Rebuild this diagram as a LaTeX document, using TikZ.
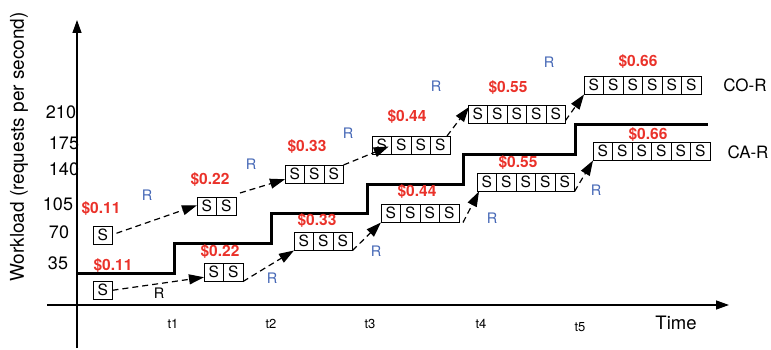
\documentclass[tikz,border=0pt]{standalone}
\usepackage{fontspec}
\setmainfont{TeX Gyre Heros}
\usetikzlibrary{arrows.meta}
\definecolor{price}{RGB}{234,50,42}
\definecolor{rlabel}{RGB}{70,104,182}
\newcommand\myfs[1]{\fontsize{#1}{#1}\selectfont}
% a row of n server cells "S", first cell placed by its top-left corner
\newcommand\cellrow[4]{%
  \node[cell, anchor=north west] (#1-1) at (#3,#4) {S};
  \ifnum#2>1
    \foreach \i [evaluate=\i as \j using int(\i-1)] in {2,...,#2}{%
      \node[cell, anchor=west] (#1-\i) at (#1-\j.east) {S};}%
  \fi}
\begin{document}
\begin{tikzpicture}[x=1pt,y=-1pt,
  cell/.style={draw, line width=0.8pt, minimum width=19.5pt, minimum height=18.5pt,
    inner sep=0pt, outer sep=0pt, font=\myfs{15.5}},
  axis/.style={line width=1.3pt, -{Triangle[length=13pt,width=9pt]}},
  load/.style={line width=3pt},
  move/.style={line width=1.2pt, dash pattern=on 6pt off 4pt,
    -{Triangle[length=15pt,width=10pt]}},
  cost/.style={text=price, font=\myfs{15.5}\bfseries},
  rep/.style={text=rlabel, font=\myfs{14.5}},
  tick/.style={font=\myfs{18}},
  tlab/.style={font=\myfs{13}}]
\useasboundingbox (0,0) rectangle (771,350);

% axes
\draw[axis] (77,348) -- (77,20);
\draw[axis] (47,305) -- (729,305);
\node[rotate=90, font=\myfs{19}] (ylab) at (19,147) {Workload (requests per second)};
\node[font=\myfs{18.5}] (xlab) at (676,323) {Time};

% workload levels
\node[tick] (y210) at (61,112) {210};
\node[tick] (y175) at (64,143) {175};
\node[tick] (y140) at (64,169) {140};
\node[tick] (y105) at (58,204) {105};
\node[tick] (y70)  at (59,232) {70};
\node[tick] (y35)  at (58,263) {35};

% time instants
\node[tlab] (t1) at (173,324) {t1};
\node[tlab] (t2) at (271,324) {t2};
\node[tlab] (t3) at (370,324) {t3};
\node[tlab] (t4) at (481,324) {t4};
\node[tlab] (t5) at (580,327) {t5};

% workload staircase
\draw[load] (77,273) -| (174,243) -| (271,213) -| (367,184) -| (463,155) -| (575,125) -- (708,125);

% CO-R provisioning
\cellrow{co1}{1}{93}{226}
\cellrow{co2}{2}{197}{197}
\cellrow{co3}{3}{285}{165}
\cellrow{co4}{4}{372}{136}
\cellrow{co5}{5}{468}{105}
\cellrow{co6}{6}{584}{76}

% CA-R provisioning
\cellrow{ca1}{1}{93}{281}
\cellrow{ca2}{2}{204}{263}
\cellrow{ca3}{3}{294}{232}
\cellrow{ca4}{4}{381}{204}
\cellrow{ca5}{5}{477}{173}
\cellrow{ca6}{6}{593}{142}

% CO-R transitions
\draw[move] ([xshift=4pt,yshift=2pt]co1-1.east) -- ([yshift=1pt]co2-1.west);
\draw[move] ([xshift=4pt,yshift=4pt]co2-2.north east) -- ([yshift=-5pt]co3-1.west);
\draw[move] (co3-3.north east) -- ([xshift=7pt,yshift=8pt]co4-1.south);
\draw[move] ([xshift=-3pt]co4-4.north east) -- ([xshift=1pt,yshift=-2pt]co5-1.north west);
\draw[move] ([yshift=3pt]co5-5.south east) -- (co6-1.south west);

% CA-R transitions
\draw[move] (ca1-1.east) -- ([yshift=-5pt]ca2-1.west);
\draw[move] (ca2-2.south east) -- (ca3-1.south west);
\draw[move] (ca3-3.south east) -- (ca4-1.south west);
\draw[move] ([xshift=4pt]ca4-4.south east) -- ([xshift=2pt]ca5-1.south west);
\draw[move] (ca5-5.south east) -- (ca6-1.south west);

% costs
\node[cost] (pco1) at (101,209) {\$0.11};
\node[cost] (pco2) at (210,180) {\$0.22};
\node[cost] (pco3) at (307,147) {\$0.33};
\node[cost] (pco4) at (407,117) {\$0.44};
\node[cost] (pco5) at (508,88)  {\$0.55};
\node[cost] (pco6) at (638,62)  {\$0.66};
\node[cost] (pca1) at (113,266) {\$0.11};
\node[cost] (pca2) at (220,252) {\$0.22};
\node[cost] (pca3) at (317,221) {\$0.33};
\node[cost] (pca4) at (417,192) {\$0.44};
\node[cost] (pca5) at (518,163) {\$0.55};
\node[cost] (pca6) at (648,135) {\$0.66};

% reconfiguration marks
\node[rep] (rco1) at (147,195) {R};
\node[rep] (rco2) at (251,164) {R};
\node[rep] (rco3) at (348,133) {R};
\node[rep] (rco4) at (436,86)  {R};
\node[rep] (rco5) at (549,62)  {R};
\node[font=\myfs{14.5}] (rca1) at (159,293) {R};
\node[rep] (rca2) at (272,278) {R};
\node[rep] (rca3) at (376,251) {R};
\node[rep] (rca4) at (492,218) {R};
\node[rep] (rca5) at (596,190) {R};

% strategy names
\node[font=\myfs{17}] (cor) at (745,85)  {CO-R};
\node[font=\myfs{17}] (car) at (748,152) {CA-R};
\end{tikzpicture}
\end{document}
